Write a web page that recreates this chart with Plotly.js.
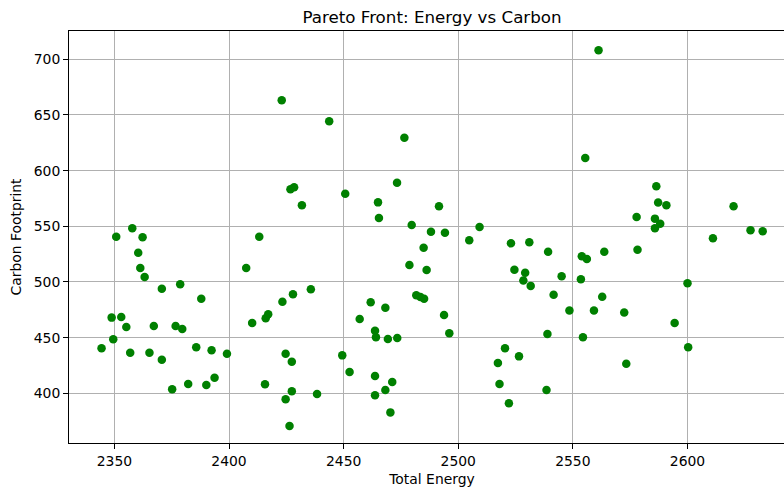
<!DOCTYPE html>
<html>
<head>
<meta charset="utf-8">
<script src="https://cdn.plot.ly/plotly-3.0.1.min.js"></script>
<style>
html,body{margin:0;padding:0;overflow:hidden;background:#fff;}
#chart{width:800px;height:491px;}
</style>
</head>
<body>
<div id="chart"></div>
<script>
const totalEnergy = [
 2344.4,2349.5,2348.8,2353.0,2355.2,2350.8,2357.8,2362.3,2360.4,2361.3,
 2363.2,2356.9,2365.3,2367.2,2370.7,2370.7,2375.2,2376.7,2378.7,2379.6,
 2382.2,2385.7,2387.9,2390.1,2392.4,2393.7,2399.1,2407.5,2410.1,2413.2,
 2415.7,2416.0,2417.1,2423.3,2427.9,2424.7,2427.4,2427.4,2424.7,2426.4,
 2431.8,2435.7,2423.0,2426.8,2428.4,2443.7,2476.5,2473.3,2450.7,2465.0,
 2491.6,2465.4,2479.7,2488.1,2494.2,2509.3,2504.8,2523.0,2531.0,2484.9,
 2478.7,2486.2,2524.5,2529.2,2528.4,2531.6,2481.7,2483.5,2485.1,2461.8,
 2468.2,2457.0,2493.8,2496.1,2463.7,2464.1,2469.3,2473.4,2449.4,2452.6,
 2463.7,2471.2,2468.2,2463.7,2470.4,2438.4,2520.4,2526.5,2517.3,2518.0,
 2522.1,2561.2,2555.4,2586.4,2587.2,2590.8,2620.1,2577.8,2585.8,2588.1,
 2585.8,2611.1,2627.5,2632.8,2539.2,2553.9,2556.1,2563.7,2578.2,2545.1,
 2553.5,2541.6,2562.8,2548.5,2559.2,2572.4,2594.4,2600.0,2538.9,2554.4,
 2600.3,2573.3,2538.5
];
const carbonFootprint = [
 440.4,448.5,468.0,468.6,459.6,540.7,548.2,540.1,526.3,512.6,
 504.5,436.5,436.5,460.5,494.0,430.2,403.6,460.5,497.9,457.8,
 408.4,441.3,485.0,407.5,438.6,414.1,435.6,512.6,463.2,540.7,
 408.1,467.4,471.0,482.3,488.9,435.6,428.4,401.8,394.6,370.7,
 569.0,493.4,663.2,583.2,585.0,644.3,629.6,589.2,579.3,571.5,
 568.0,557.5,551.2,545.2,544.3,549.4,537.4,534.7,535.6,530.8,
 515.3,510.8,511.0,508.2,501.3,496.5,488.0,486.5,485.0,481.7,
 476.9,466.8,470.4,453.9,456.3,450.3,448.8,449.7,434.1,419.2,
 415.6,410.2,403.0,398.2,382.9,399.4,440.4,433.2,427.2,408.4,
 391.0,708.1,611.4,585.9,571.3,569.0,568.0,558.4,556.9,552.4,
 548.2,539.2,546.4,545.5,527.2,523.1,520.7,527.2,529.0,505.1,
 502.4,488.6,486.8,474.3,474.3,472.5,463.2,498.8,453.3,450.3,
 441.3,426.6,403.0
];
const xTicks = [2350,2400,2450,2500,2550,2600];
const yTicks = [400,450,500,550,600,650,700];

const font = 'DejaVu Sans, sans-serif';
const trace = {
  x: totalEnergy, y: carbonFootprint,
  type: 'scatter', mode: 'markers',
  marker: {color: '#008000', size: 8.5, line: {width: 0}},
  hoverinfo: 'x+y'
};
const axisCommon = {
  showgrid: true, gridcolor: '#b0b0b0', gridwidth: 1,
  zeroline: false, showline: true, linecolor: '#000', linewidth: 1,
  mirror: true, ticks: 'outside', ticklen: 5, tickwidth: 1, tickcolor: '#000',
  tickfont: {family: font, size: 13.9, color: '#000'}
};
const layout = {
  width: 800, height: 491,
  margin: {l: 69, r: 5, t: 31, b: 48},
  paper_bgcolor: '#fff', plot_bgcolor: '#fff',
  showlegend: false,
  title: {text: 'Pareto Front: Energy vs Carbon', font: {family: font, size: 16.7, color: '#000'},
          x: 0.5, xref: 'paper', y: 1 - 17/491, yref: 'container', yanchor: 'middle'},
  xaxis: Object.assign({}, axisCommon, {
    range: [2330.2, 2646.9], tickvals: xTicks, ticktext: xTicks.map(String),
    title: {text: 'Total Energy', font: {family: font, size: 13.9, color: '#000'}, standoff: 6}
  }),
  yaxis: Object.assign({}, axisCommon, {
    range: [355.4, 725.4], tickvals: yTicks, ticktext: yTicks.map(String),
    title: {text: 'Carbon Footprint', font: {family: font, size: 13.9, color: '#000'}, standoff: 8}
  })
};
Plotly.newPlot('chart', [trace], layout, {staticPlot: true, displayModeBar: false});
</script>
</body>
</html>
